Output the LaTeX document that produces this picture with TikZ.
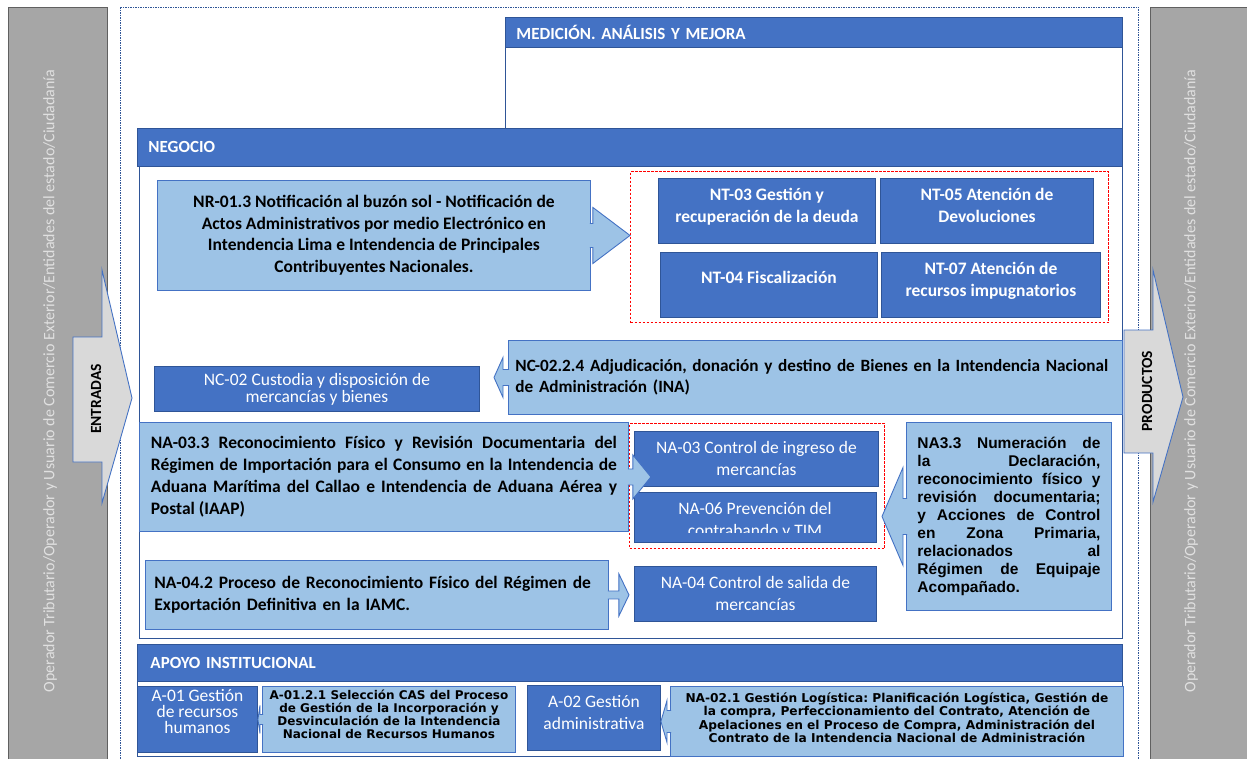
\documentclass[tikz,border=0pt]{standalone}
\usepackage{fontspec}
\setmainfont{Carlito}
\newfontfamily\arialfont{Liberation Sans}
\newfontfamily\verdanafont{DejaVu Sans}
\usetikzlibrary{calc}
\frenchspacing

\definecolor{headblue}{HTML}{4472C4}
\definecolor{edgeblue}{HTML}{2F5597}
\definecolor{lightblue}{HTML}{9DC3E6}
\definecolor{bandgray}{HTML}{A6A6A6}
\definecolor{arrowgray}{HTML}{D9D9D9}
\definecolor{sidetxt}{HTML}{E0E0E0}

\tikzset{
  band/.style={fill=bandgray, draw=gray!75!black, line width=0.6pt},
  sidelabel/.style={rotate=90, text=sidetxt, font=\fontsize{16}{19}\selectfont},
  frameline/.style={draw=edgeblue, dash pattern=on 1.5pt off 1pt, line width=0.7pt},
  panel/.style={draw=edgeblue, fill=white, line width=0.9pt},
  hdrbar/.style={draw=edgeblue, fill=headblue, text=white, anchor=north west, inner xsep=11pt, inner ysep=0pt, align=left, line width=0.9pt, font=\bfseries\fontsize{17}{20}\selectfont},
  darkbox/.style={draw=edgeblue, fill=headblue, text=white, anchor=north west, inner sep=0pt, align=center, line width=0.9pt, font=\fontsize{17.5}{22}\selectfont},
  darkbold/.style={darkbox, text depth=12pt, font=\bfseries\fontsize{17.5}{22}\selectfont},
  lightbox/.style={draw=headblue, fill=lightblue, text=black, anchor=north west, inner sep=0pt, line width=0.9pt, font=\bfseries\fontsize{17.5}{21.5}\selectfont},
  callout/.style={draw=headblue, fill=lightblue, line width=0.9pt},
  redgroup/.style={draw=red, dash pattern=on 2.5pt off 1.5pt, line width=1pt, anchor=north west, inner sep=0pt},
  ioarrow/.style={fill=arrowgray, draw=headblue, line width=0.9pt},
  iolabel/.style={rotate=90, font=\bfseries\fontsize{15.5}{18}\selectfont},
}

\begin{document}
\begin{tikzpicture}[x=1pt,y=-1pt]
\useasboundingbox (0,0) rectangle (1247,758);

% outer bands
\draw[band] (8,7) rectangle (107,775);
\draw[band] (1150,7) rectangle (1260,775);
\node[sidelabel] (extl) at (50,381) {Operador Tributario/Operador y Usuario de Comercio Exterior/Entidades del estado/Ciudadanía};
\node[sidelabel] (extr) at (1191,381) {Operador Tributario/Operador y Usuario de Comercio Exterior/Entidades del estado/Ciudadanía};

\draw[frameline] (120,7) rectangle (1138,775);

% medicion
\draw[panel] (505,17) rectangle (1122,128);
\node[hdrbar, text width=595pt, minimum height=30pt] (medhdr) at (505,17) {MEDICIÓN. ANÁLISIS Y MEJORA};

% negocio
\draw[panel] (139,166) rectangle (1122,638);
\node[hdrbar, text width=963pt, minimum height=38pt] (neghdr) at (137,128) {NEGOCIO};

\node[redgroup, minimum width=478pt, minimum height=151pt] (ntgroup) at (630,171) {};
\node[darkbold, minimum width=217pt, minimum height=65pt] (nt03) at (658,178) {NT-03 Gestión y\\recuperación de la deuda};
\node[darkbold, minimum width=213pt, minimum height=65pt] (nt05) at (880,178) {NT-05 Atención de\\Devoluciones};
\node[darkbold, minimum width=217pt, minimum height=65pt, text depth=16pt] (nt04) at (660,252) {NT-04 Fiscalización};
\node[darkbold, minimum width=219pt, minimum height=65pt] (nt07) at (881,252) {NT-07 Atención de\\recursos impugnatorios};

\node[lightbox, minimum width=433pt, minimum height=110pt, align=center] (nr013) at (157,180) {NR-01.3 Notificación al buzón sol - Notificación de\\Actos Administrativos por medio Electrónico en\\Intendencia Lima e Intendencia de Principales\\Contribuyentes Nacionales.};
\draw[callout] ($(nr013.east)+(-1,-12)$) -- ++(3,0) -- ++(0,-16) -- (nr013.east -| ntgroup.west) -- ($(nr013.east)+(2,28)$) -- ++(0,-16) -- ++(-3,0);

\node[darkbox, minimum width=325pt, minimum height=45pt, font=\fontsize{17.5}{17}\selectfont] (nc02) at (154,366) {NC-02 Custodia y disposición de\\mercancías y bienes};
\node[lightbox, minimum height=74pt, text width=600pt, inner xsep=7pt, align=left, font=\bfseries\fontsize{17.2}{21}\selectfont] (nc0224) at (508,340) {\mbox{NC-02.2.4 Adjudicación, donación y destino de Bienes en la Intendencia Nacional}\\de Administración (INA)};
\draw[callout] ($(nc0224.west)+(1,-8)$) -- ++(-6,0) -- ++(0,-12) -- ++(-9,20) -- ++(9,20) -- ++(0,-12) -- ++(6,0);

\node[lightbox, minimum height=109pt, text width=466pt, inner xsep=11.5pt, align=justify, font=\bfseries\fontsize{17.5}{22}\selectfont] (na033) at (139,422) {NA-03.3 Reconocimiento Físico y Revisión Documentaria del\linebreak Régimen de Importación para el Consumo en la Intendencia de\linebreak Aduana Marítima del Callao e Intendencia de Aduana Aérea y\linebreak Postal (IAAP)};

% aduanas
\node[redgroup, minimum width=255pt, minimum height=125pt] (nagroup) at (629,423) {};
\node[darkbox, minimum width=244pt, minimum height=55pt] (na03) at (634,431) {NA-03 Control de ingreso de\\mercancías};
\node[darkbox, minimum width=242pt, minimum height=50pt] (na06) at (634,492) {};
\begin{scope}
\clip (634,492) rectangle (876,532);
\node[text=white, align=center, font=\fontsize{17.5}{22}\selectfont] (na06txt) at (755,521) {NA-06 Prevención del\\contrabando y TIM};
\end{scope}
\draw[callout] ($(na033.east)+(-1,-8)$) -- ++(5,0) -- ++(0,-14) -- ++(18,22) -- ++(-18,22) -- ++(0,-14) -- ++(-5,0);

\node[darkbox, minimum width=242pt, minimum height=55pt] (na04) at (634,566) {NA-04 Control de salida de\\mercancías};
\node[lightbox, minimum height=69pt, text width=445pt, inner xsep=9pt, align=left] (na042) at (145,560) {NA-04.2 Proceso de Reconocimiento Físico del Régimen de\\Exportación Definitiva en la IAMC.};
\draw[callout] ($(na042.east)+(-1,-4)$) -- ++(11,0) -- ++(0,-17) -- ($(na042.east -| na04.west)+(-5,0)$) -- ($(na042.east)+(10,21)$) -- ++(0,-17) -- ++(-11,0);

\node[lightbox, minimum height=188pt, text width=183pt, inner xsep=11pt, align=justify, font=\arialfont\bfseries\fontsize{15.5}{18}\selectfont] (na33) at (906,422) {NA3.3 Numeración de\linebreak la Declaración,\linebreak reconocimiento físico y\linebreak revisión documentaria;\linebreak y Acciones de Control\linebreak en Zona Primaria,\linebreak relacionados al\linebreak Régimen de Equipaje\linebreak Acompañado.};
\draw[callout] ($(na33.west)+(1,-18)$) -- ++(-4,0) -- ++(0,-31) -- ($(na33.west -| nagroup.east)+(-3,0)$) -- ($(na33.west)+(-3,49)$) -- ++(0,-31) -- ++(4,0);

% apoyo
\draw[panel] (137,681) rectangle (1122,756);
\node[hdrbar, text width=959pt, inner xsep=13pt, minimum height=37pt] (apohdr) at (137,644) {APOYO INSTITUCIONAL};

\node[darkbox, minimum width=120pt, minimum height=66pt, text depth=17pt, font=\fontsize{17.5}{16}\selectfont] (a01) at (137,686) {A-01 Gestión\\de recursos\\humanos};
\node[lightbox, minimum width=253pt, minimum height=66pt, align=center, text depth=11pt, font=\verdanafont\bfseries\fontsize{12}{13}\selectfont] (a0121) at (262,686) {A-01.2.1 Selección CAS del Proceso\\de Gestión de la Incorporación y\\Desvinculación de la Intendencia\\Nacional de Recursos Humanos};
\draw[callout] ($(a0121.west)+(1,-5)$) -- ++(-3,0) -- ++(0,-9) -- (a0121.west -| a01.east) -- ($(a0121.west)+(-2,14)$) -- ++(0,-9) -- ++(3,0);

\node[darkbox, minimum width=133pt, minimum height=65pt, text depth=11pt] (a02) at (527,685) {A-02 Gestión\\administrativa};
\node[lightbox, minimum width=453pt, minimum height=70pt, align=center, text depth=8pt, font=\verdanafont\bfseries\fontsize{12.2}{13.5}\selectfont] (na021) at (670,686) {NA-02.1 Gestión Logística: Planificación Logística, Gestión de\\la compra, Perfeccionamiento del Contrato, Atención de\\Apelaciones en el Proceso de Compra, Administración del\\Contrato de la Intendencia Nacional de Administración};
\draw[callout] ($(na021.west)+(1,-11)$) -- ++(-4,0) -- ++(0,-10) -- (na021.west -| a02.east) -- ($(na021.west)+(-3,21)$) -- ++(0,-10) -- ++(4,0);

% entradas / productos
\draw[ioarrow] (73,337) -- (102,337) -- (102,270) -- (132,398) -- (102,503) -- (102,462) -- (73,462) -- cycle;
\node[iolabel] (entradas) at (96,399) {ENTRADAS};
\draw[ioarrow] (1124,330) -- (1153,330) -- (1153,270) -- (1183,397) -- (1153,502) -- (1153,453) -- (1124,453) -- cycle;
\node[iolabel] (productos) at (1147,391) {PRODUCTOS};

\end{tikzpicture}
\end{document}
